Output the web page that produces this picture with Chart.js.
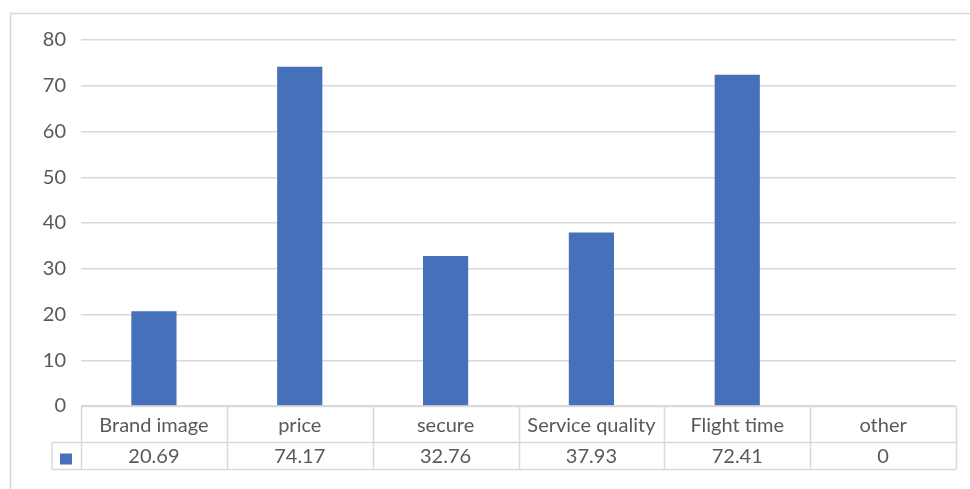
<!DOCTYPE html>
<html>
<head>
<meta charset="utf-8">
<script src="https://cdn.jsdelivr.net/npm/chart.js@4.4.1/dist/chart.umd.min.js"></script>
<style>
  html, body { margin: 0; padding: 0; background: #fff; }
  #wrap { width: 970px; height: 489px; }
</style>
</head>
<body>
<div id="wrap"><canvas id="myBarChart"></canvas></div>
<script>
// chart data
const categories = ["Brand image", "price", "secure", "Service quality", "Flight time", "other"];
const values = [20.69, 74.17, 32.76, 37.93, 72.41, 0];
const valueLabels = ["20.69", "74.17", "32.76", "37.93", "72.41", "0"];
const yTicks = [0, 10, 20, 30, 40, 50, 60, 70, 80];

const barColor = "#4770BB";
const lineColor = "#d9d9d9";
const textColor = "#595959";
const fontFamily = "Lato, 'Open Sans', sans-serif";

// draws the outer frame and the data table under the plot
const dataTablePlugin = {
    id: "dataTable",
    beforeDraw(chart) {
        const ctx = chart.ctx;
        ctx.save();
        ctx.strokeStyle = lineColor;
        ctx.lineWidth = 1.5;
        ctx.strokeRect(10.5, 13.5, 1100, 700);
        ctx.restore();
    },
    afterDraw(chart) {
        const ctx = chart.ctx;
        const area = chart.chartArea;
        const x = chart.scales.x;
        const colW = (area.right - area.left) / categories.length;
        const top = Math.round(area.bottom) + 0.5;
        const mid = top + 36;
        const bottom = mid + 27;
        const keyLeft = area.left - 29;

        ctx.save();
        ctx.strokeStyle = lineColor;
        ctx.lineWidth = 1.5;
        ctx.beginPath();
        ctx.moveTo(area.left, top); ctx.lineTo(area.right, top);
        ctx.moveTo(keyLeft, mid); ctx.lineTo(area.right, mid);
        ctx.moveTo(keyLeft, bottom); ctx.lineTo(area.right, bottom);
        ctx.moveTo(keyLeft, mid); ctx.lineTo(keyLeft, bottom);
        for (let i = 0; i <= categories.length; i++) {
            const px = Math.round(area.left + i * colW) + 0.5;
            ctx.moveTo(px, top); ctx.lineTo(px, bottom);
        }
        ctx.stroke();

        // legend key
        ctx.fillStyle = barColor;
        ctx.fillRect(keyLeft + 8, mid + 11, 12, 11);

        ctx.fillStyle = textColor;
        ctx.font = "20px " + fontFamily;
        ctx.textAlign = "center";
        ctx.textBaseline = "middle";
        categories.forEach((c, i) => {
            const cx = x.getPixelForValue(i);
            ctx.fillText(c, cx, (top + mid) / 2 + 1);
            ctx.fillText(valueLabels[i], cx, (mid + bottom) / 2 + 1);
        });
        ctx.restore();
    }
};

const ctx = document.getElementById("myBarChart").getContext("2d");
const myBarChart = new Chart(ctx, {
    type: "bar",
    data: {
        labels: categories,
        datasets: [
            {
                label: "",
                data: values,
                backgroundColor: barColor,
                borderWidth: 0,
                categoryPercentage: 1,
                barPercentage: 0.31,
            },
        ],
    },
    options: {
        responsive: true,
        maintainAspectRatio: false,
        animation: false,
        layout: { padding: { top: 40, right: 14, bottom: 75, left: 0 } },
        scales: {
            y: {
                min: 0,
                max: 80,
                afterFit: (scale) => { scale.width = 81; },
                afterBuildTicks: (scale) => { scale.ticks = yTicks.map((v) => ({ value: v })); },
                grid: { color: lineColor, lineWidth: 1.5, drawTicks: false },
                border: { display: false },
                ticks: { color: textColor, font: { size: 20, family: fontFamily }, padding: 15 },
            },
            x: {
                grid: { display: false },
                border: { display: false },
                ticks: { display: false },
            },
        },
        plugins: {
            legend: { display: false },
            tooltip: { enabled: false },
        },
    },
    plugins: [dataTablePlugin],
});
</script>
</body>
</html>
